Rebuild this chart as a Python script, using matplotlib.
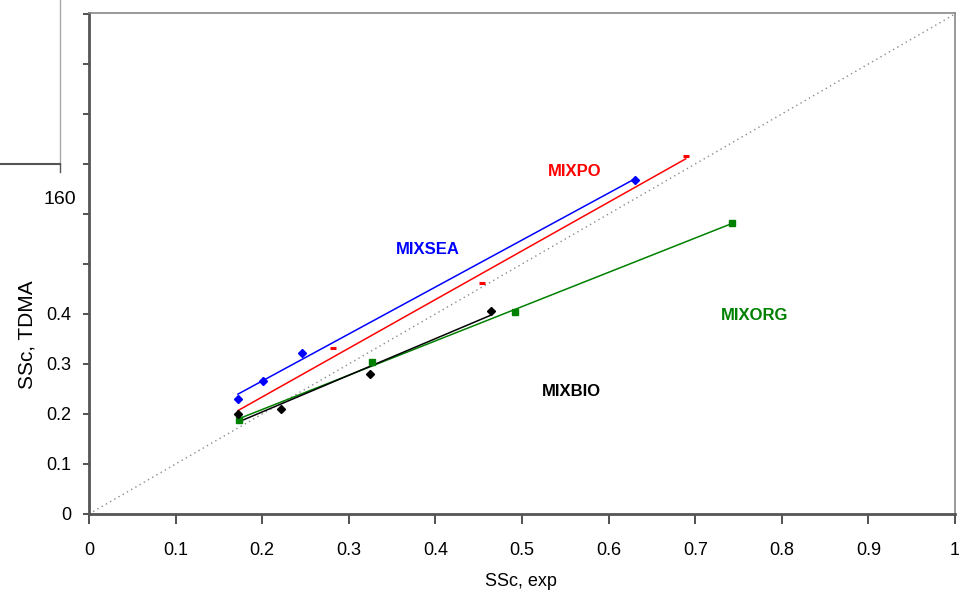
import numpy as np
import matplotlib
matplotlib.use("Agg")
import matplotlib.pyplot as plt
from matplotlib.lines import Line2D

plt.rcParams['font.family'] = ['Liberation Sans', 'DejaVu Sans']

# Data
sea_x = [0.172, 0.201, 0.246, 0.630]
sea_y = [0.230, 0.266, 0.322, 0.668]
po_x = [0.172, 0.282, 0.4535, 0.689]
po_y = [0.200, 0.333, 0.463, 0.716]
bio_x = [0.1724, 0.2217, 0.325, 0.464]
bio_y = [0.1993, 0.210, 0.281, 0.407]
org_x = [0.1736, 0.3264, 0.4919, 0.742]
org_y = [0.188, 0.3033, 0.4033, 0.582]

x_ticks = [0, 0.1, 0.2, 0.3, 0.4, 0.5, 0.6, 0.7, 0.8, 0.9, 1]
x_ticklabels = ["0", "0.1", "0.2", "0.3", "0.4", "0.5", "0.6", "0.7", "0.8", "0.9", "1"]
y_ticks = [0, 0.1, 0.2, 0.3, 0.4, 0.5, 0.6, 0.7, 0.8, 0.9, 1.0]
y_ticklabels = ["0", "0.1", "0.2", "0.3", "0.4", "", "", "", "", "", ""]

fig = plt.figure(figsize=(9.59, 5.96), dpi=100)
ax = fig.add_axes([89/959, 1-514/596, 866/959, 501/596])
ax.set_xlim(0, 1)
ax.set_ylim(0, 1.002)

# 1:1 line
ax.plot([0, 1], [0, 1], color='#8a8a8a', lw=1.0, ls=(0, (1, 2.5)), zorder=1)

def fitline(xs, ys, color):
    p = np.polyfit(xs, ys, 1)
    xx = np.array([min(xs), max(xs)])
    ax.plot(xx, np.polyval(p, xx), color=color, lw=1.1, zorder=2)

fitline(sea_x, sea_y, '#0000ff')
fitline(po_x, po_y, '#ff0000')
fitline(org_x, org_y, '#008000')
fitline(bio_x, bio_y, '#000000')

ax.plot(po_x, po_y, ls='none', marker='_', color='#ff0000', ms=4, mew=2.2, zorder=3)
ax.plot(sea_x, sea_y, ls='none', marker='D', color='#0000ff', ms=4.5, zorder=3)
ax.plot(org_x, org_y, ls='none', marker='s', color='#008000', ms=5, zorder=3)
ax.plot(bio_x, bio_y, ls='none', marker='D', color='#000000', ms=4.5, zorder=4)

lab_kw = dict(fontsize=12, fontweight='bold', ha='center', va='center')
ax.text((575-89)/866, (514-172)/500, 'MIXPO', color='#ff0000', **lab_kw)
ax.text((428-89)/866, (514-249)/500, 'MIXSEA', color='#0000ff', **lab_kw)
ax.text((755-89)/866, (514-315)/500, 'MIXORG', color='#008000', **lab_kw)
ax.text((571-89)/866, (514-391)/500, 'MIXBIO', color='#000000', **lab_kw)

ax.set_xticks(x_ticks)
ax.set_xticklabels(x_ticklabels)
ax.set_yticks(y_ticks)
ax.set_yticklabels(y_ticklabels)
ax.tick_params(axis='x', direction='out', length=7, width=1.2, pad=13,
               labelsize=13, colors='#333333', labelcolor='black')
ax.tick_params(axis='y', direction='out', length=4, width=1.2, pad=9,
               labelsize=13, colors='#333333', labelcolor='black')

for s in ['left', 'bottom']:
    ax.spines[s].set_color('#555555')
    ax.spines[s].set_linewidth(2)
for s in ['top', 'right']:
    ax.spines[s].set_color('#888888')
    ax.spines[s].set_linewidth(1.2)

ax.set_xlabel('SSc, exp', fontsize=13, va='center')
ax.xaxis.set_label_coords((521-89)/866, (514-582)/501)
ax.set_ylabel('SSc, TDMA', fontsize=15, va='center')
ax.yaxis.set_label_coords((27-89)/866, (514-335)/501)

# stray label and box fragment at top-left
fig.text(76/959, 1-200/596, '160', fontsize=14, ha='right', va='center')
fig.add_artist(Line2D([60/959, 60/959], [1.0, 1-164/596], color='#aaaaaa', lw=1.0))
fig.add_artist(Line2D([0, 60/959], [1-164/596, 1-164/596], color='#555555', lw=1.5))
fig.add_artist(Line2D([60/959, 60/959], [1-164/596, 1-172/596], color='#555555', lw=1.0))

fig.savefig('out.png', dpi=100)
